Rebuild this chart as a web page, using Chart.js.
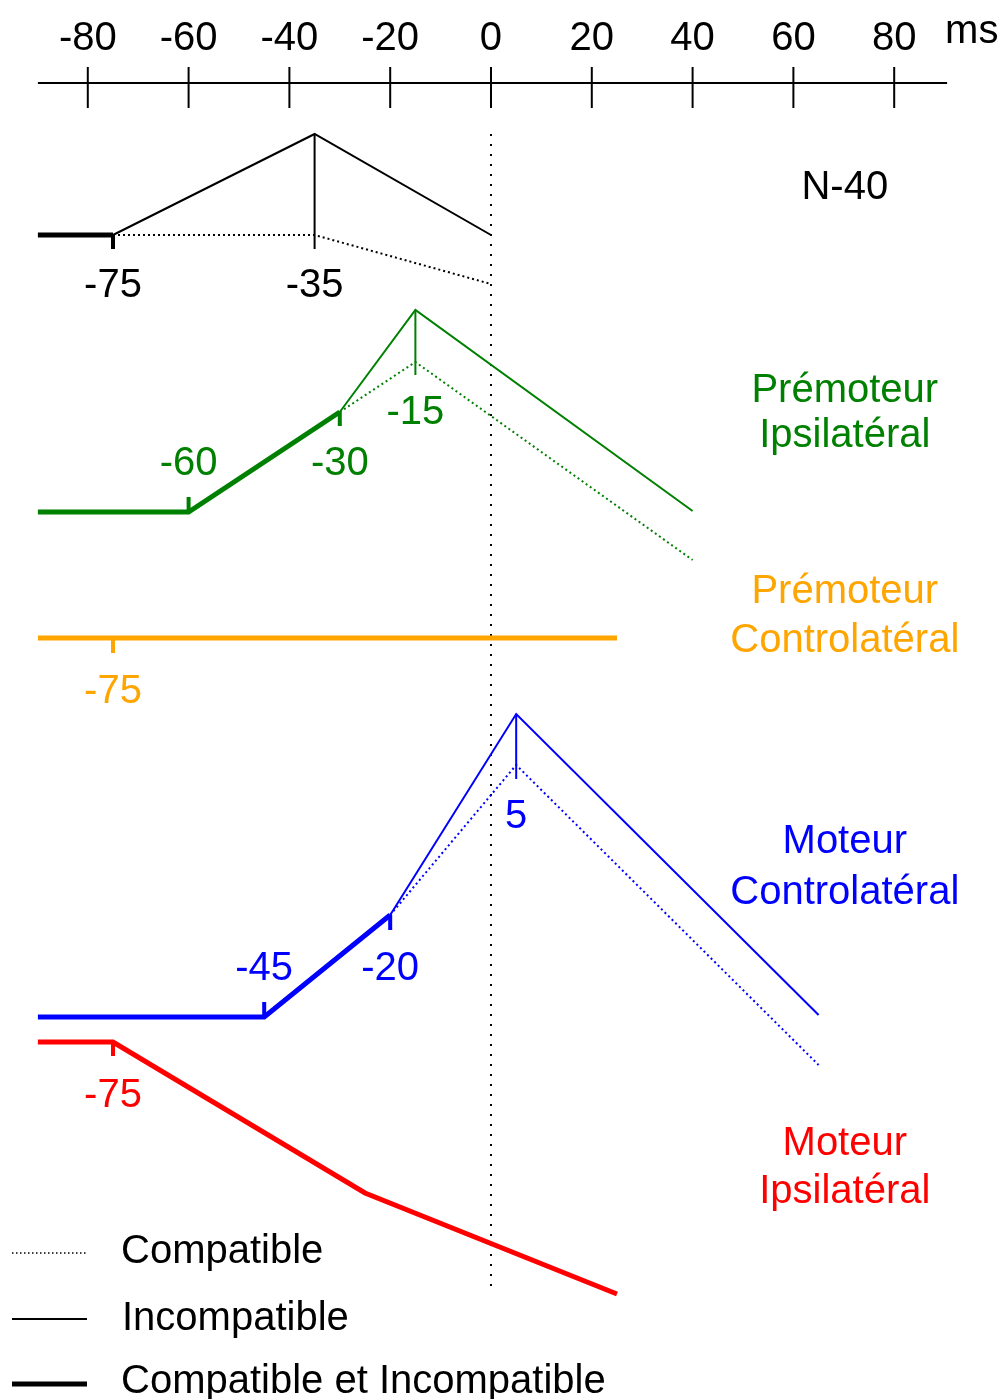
<!DOCTYPE html>
<html>
<head>
<meta charset="utf-8">
<script src="https://cdn.jsdelivr.net/npm/chart.js@4/dist/chart.umd.min.js"></script>
<style>
html,body{margin:0;padding:0;background:#fff;}
#wrap{width:1002px;height:1399px;}
</style>
</head>
<body>
<div id="wrap"><canvas id="c" width="1002" height="1399"></canvas></div>
<script>
// ---- data (x in ms, y in arbitrary activity units) ----
const tickValues = [-80, -60, -40, -20, 0, 20, 40, 60, 80];
const unitLabel = 'ms';

// N-40
const n40Both      = [[-89.9, 116.4], [-75, 116.4]];
const n40Incompat  = [[-75, 116.4], [-35, 126.5], [0, 116.4]];
const n40Compat    = [[-75, 116.4], [-35, 116.4], [0, 111.5]];
const n40Onset     = [[-75, 116.4], [-75, 115.0]];
const n40Peak      = [[-35, 126.5], [-35, 115.0]];

// Prémoteur Ipsilatéral
const piBoth       = [[-89.9, 88.7], [-60, 88.7], [-30, 98.7]];
const piIncompat   = [[-30, 98.7], [-15, 108.9], [40, 88.8]];
const piCompat     = [[-30, 98.7], [-15, 103.7], [40, 83.9]];
const piOnset      = [[-60, 88.7], [-60, 90.2]];
const piSplit      = [[-30, 98.7], [-30, 97.3]];
const piPeak       = [[-15, 108.9], [-15, 102.4]];

// Prémoteur Controlatéral
const pcBoth       = [[-89.9, 76.1], [25, 76.1]];
const pcOnset      = [[-75, 76.1], [-75, 74.6]];

// Moteur Controlatéral
const mcBoth       = [[-89.9, 38.2], [-45, 38.2], [-20, 48.4]];
const mcIncompat   = [[-20, 48.4], [5, 68.5], [65, 38.4]];
const mcCompat     = [[-20, 48.4], [5, 63.4], [65, 33.4]];
const mcOnset      = [[-45, 38.2], [-45, 39.7]];
const mcSplit      = [[-20, 48.4], [-20, 46.9]];
const mcPeak       = [[5, 68.5], [5, 62.0]];

// Moteur Ipsilatéral
const miBoth       = [[-89.9, 35.7], [-75, 35.7], [-25, 20.6], [25, 10.5]];
const miOnset      = [[-75, 35.7], [-75, 34.3]];

// stimulus onset reference
const zeroLine     = [[0, 126.5], [0, 11.2]];

// value annotations: text, x (ms), y (units), colour key
const valueLabels = [
  ['-75', -75, 110.2, 'k'], ['-35', -35, 110.2, 'k'],
  ['-60', -60, 92.4, 'g'], ['-30', -30, 92.4, 'g'], ['-15', -15, 97.5, 'g'],
  ['-75', -75, 69.6, 'o'],
  ['-45', -45, 41.9, 'b'], ['-20', -20, 41.9, 'b'], ['5', 5, 57.1, 'b'],
  ['-75', -75, 29.2, 'r']
];
const regionLabels = [
  ['N-40', 70.2, 120.0, 'k'],
  ['Prémoteur', 70.2, 99.7, 'g'], ['Ipsilatéral', 70.2, 95.2, 'g'],
  ['Prémoteur', 70.2, 79.6, 'o'], ['Controlatéral', 70.2, 74.7, 'o'],
  ['Moteur', 70.2, 54.6, 'b'], ['Controlatéral', 70.2, 49.5, 'b'],
  ['Moteur', 70.2, 24.4, 'r'], ['Ipsilatéral', 70.2, 19.6, 'r']
];
const legendLabels = ['Compatible', 'Incompatible', 'Compatible et Incompatible'];

// ---- styles ----
const COL = {k: '#000000', g: '#008000', o: '#FFA500', b: '#0000FF', r: '#FF0000'};
const FONT = '"Liberation Sans", Arial, Helvetica, sans-serif';

function pts(a) { return a.map(p => ({x: p[0], y: p[1]})); }
function ds(data, color, kind) {
  const s = {
    data: pts(data), borderColor: color, backgroundColor: color,
    pointRadius: 0, pointHoverRadius: 0, showLine: true, tension: 0,
    borderCapStyle: 'butt', borderJoinStyle: 'miter', fill: false,
    borderWidth: 2, borderDash: []
  };
  if (kind === 'thick') s.borderWidth = 5;
  if (kind === 'tick') s.borderWidth = 4;
  if (kind === 'dot') { s.borderWidth = 2; s.borderDash = [2, 3]; }
  if (kind === 'zero') { s.borderWidth = 2; s.borderDash = [2, 8]; }
  return s;
}

const datasets = [
  ds(n40Both, COL.k, 'thick'), ds(n40Onset, COL.k, 'tick'),
  ds(n40Incompat, COL.k, 'thin'), ds(n40Compat, COL.k, 'dot'), ds(n40Peak, COL.k, 'thin'),
  ds(piBoth, COL.g, 'thick'), ds(piOnset, COL.g, 'tick'), ds(piSplit, COL.g, 'tick'),
  ds(piIncompat, COL.g, 'thin'), ds(piCompat, COL.g, 'dot'), ds(piPeak, COL.g, 'thin'),
  ds(pcBoth, COL.o, 'thick'), ds(pcOnset, COL.o, 'tick'),
  ds(mcBoth, COL.b, 'thick'), ds(mcOnset, COL.b, 'tick'), ds(mcSplit, COL.b, 'tick'),
  ds(mcIncompat, COL.b, 'thin'), ds(mcCompat, COL.b, 'dot'), ds(mcPeak, COL.b, 'thin'),
  ds(miBoth, COL.r, 'thick'), ds(miOnset, COL.r, 'tick'),
  ds(zeroLine, COL.k, 'zero')
];

const decor = {
  id: 'decor',
  afterDatasetsDraw(chart) {
    const ctx = chart.ctx, xs = chart.scales.x, ys = chart.scales.y;
    ctx.save();
    // top time axis
    const ay = ys.getPixelForValue(131.6);
    ctx.strokeStyle = '#000'; ctx.lineWidth = 2; ctx.setLineDash([]);
    ctx.beginPath();
    ctx.moveTo(xs.getPixelForValue(-89.9), ay);
    ctx.lineTo(xs.getPixelForValue(90.5), ay);
    ctx.stroke();
    ctx.fillStyle = '#000';
    ctx.font = '40px ' + FONT; ctx.textAlign = 'center'; ctx.textBaseline = 'alphabetic';
    tickValues.forEach(v => {
      const px = xs.getPixelForValue(v);
      ctx.beginPath();
      ctx.moveTo(px, ys.getPixelForValue(133.2));
      ctx.lineTo(px, ys.getPixelForValue(129.1));
      ctx.stroke();
      ctx.fillText(String(v), px, ys.getPixelForValue(134.9));
    });
    ctx.textAlign = 'left';
    ctx.fillText(unitLabel, xs.getPixelForValue(90.1), ys.getPixelForValue(135.6));

    // value annotations
    ctx.font = '40px ' + FONT; ctx.textAlign = 'center';
    valueLabels.forEach(l => {
      ctx.fillStyle = COL[l[3]];
      ctx.fillText(l[0], xs.getPixelForValue(l[1]), ys.getPixelForValue(l[2]));
    });
    // region names
    ctx.font = '40px ' + FONT;
    regionLabels.forEach(l => {
      ctx.fillStyle = COL[l[3]];
      ctx.fillText(l[0], xs.getPixelForValue(l[1]), ys.getPixelForValue(l[2]));
    });

    // legend
    const rows = [
      {y: 1253, w: 1.5, dash: [1.5, 2.5], ty: 1263},
      {y: 1319, w: 2, dash: [], ty: 1330},
      {y: 1384, w: 5, dash: [], ty: 1393}
    ];
    ctx.textAlign = 'left'; ctx.fillStyle = '#000'; ctx.strokeStyle = '#000';
    rows.forEach((r, i) => {
      ctx.lineWidth = r.w; ctx.setLineDash(r.dash);
      ctx.beginPath(); ctx.moveTo(12, r.y); ctx.lineTo(87, r.y); ctx.stroke();
      ctx.fillText(legendLabels[i], i === 1 ? 122 : 121, r.ty);
    });
    ctx.restore();
  }
};

new Chart(document.getElementById('c'), {
  type: 'scatter',
  data: {datasets},
  options: {
    responsive: false, animation: false, devicePixelRatio: 1,
    layout: {padding: 0},
    plugins: {legend: {display: false}, tooltip: {enabled: false}},
    events: [],
    scales: {
      x: {type: 'linear', min: -97.42, max: 101.39, display: false},
      y: {type: 'linear', min: 0, max: 139.9, display: false}
    }
  },
  plugins: [decor]
});
</script>
</body>
</html>
